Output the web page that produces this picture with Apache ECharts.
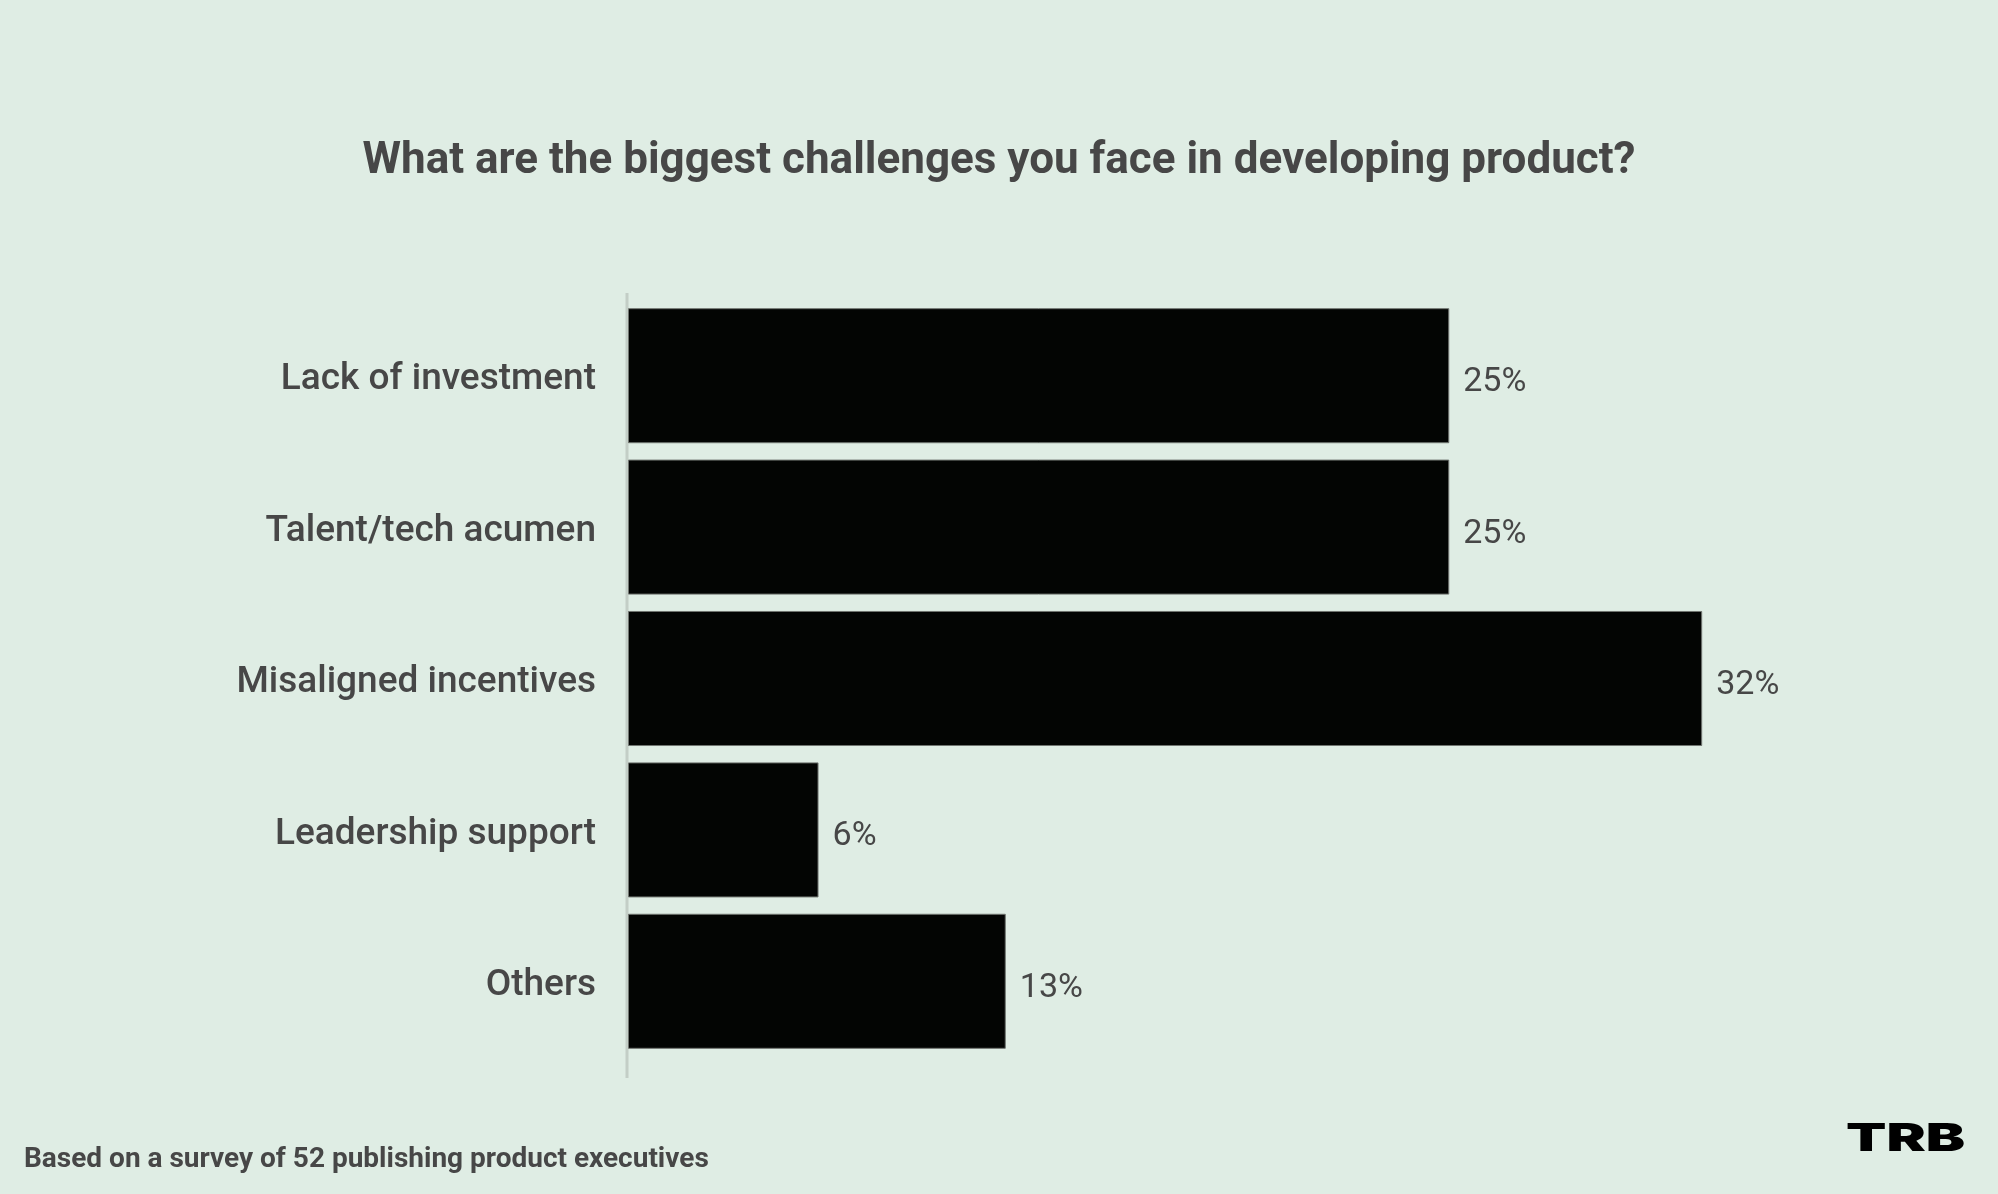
<!DOCTYPE html>
<html>
<head>
<meta charset="utf-8">
<script src="https://cdn.jsdelivr.net/npm/echarts@6/dist/echarts.min.js"></script>
<style>
html,body{margin:0;padding:0;background:#dfede4;}
#c{width:1998px;height:1194px;}
</style>
</head>
<body>
<div id="c"></div>
<script>
const categories = ['Lack of investment', 'Talent/tech acumen', 'Misaligned incentives', 'Leadership support', 'Others'];
const values = [25, 25, 32.7, 5.8, 11.5];
const valueLabels = ['25%', '25%', '32%', '6%', '13%'];
const titleText = 'What are the biggest challenges you face in developing product?';
const footnote = 'Based on a survey of 52 publishing product executives';
const logo = 'TRB';

const chart = echarts.init(document.getElementById('c'), null, {renderer: 'canvas'});
chart.setOption({
  backgroundColor: '#dfede4',
  animation: false,
  title: {
    text: titleText,
    left: 'center',
    top: 135,
    textStyle: {fontFamily: 'Roboto', fontWeight: 'bold', fontSize: 44, color: '#474747'}
  },
  grid: {left: 628, right: 56, top: 300, bottom: 137, containLabel: false},
  xAxis: {
    type: 'value', min: 0, max: 40, show: false
  },
  yAxis: {
    type: 'category', data: categories, inverse: true,
    axisLine: {show: false}, axisTick: {show: false},
    axisLabel: {
      margin: 32,
      formatter: v => '{a|' + v + '}',
      rich: {a: {fontFamily: 'Roboto', fontWeight: 500, fontSize: 37, color: '#474747', padding: [9, 0, 0, 0]}}
    }
  },
  series: [{
    type: 'bar',
    data: values,
    barCategoryGap: '10.8%',
    itemStyle: {color: '#030503', borderColor: '#707570', borderWidth: 1},
    label: {
      show: true, position: 'right', distance: 14, offset: [0, 7],
      fontFamily: 'Roboto', fontSize: 34, color: '#474747',
      formatter: p => valueLabels[p.dataIndex]
    }
  }],
  graphic: [
    {type: 'line', shape: {x1: 627, y1: 293, x2: 627, y2: 1078}, style: {stroke: '#c3cec6', lineWidth: 3}},
    {type: 'text', left: 24, top: 1146, style: {text: footnote, font: 'bold 28px Roboto', fill: '#474747'}},
    {type: 'text', x: 1846, y: 1121, scaleX: 1.55, style: {text: logo, font: '900 38px Inter', fill: '#000000'}}
  ]
});
</script>
</body>
</html>
